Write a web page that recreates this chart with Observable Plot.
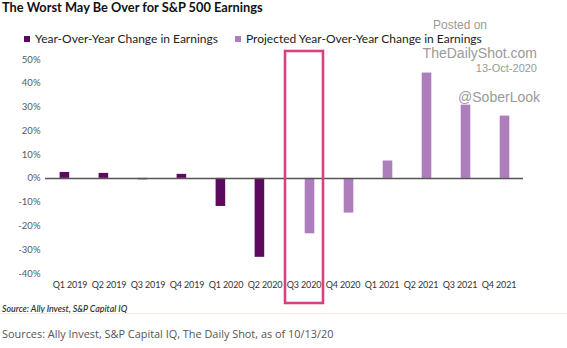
<!DOCTYPE html>
<html>
<head>
<meta charset="utf-8">
<script src="https://cdn.jsdelivr.net/npm/d3@7"></script>
<script src="https://cdn.jsdelivr.net/npm/@observablehq/plot@0.6"></script>
<style>
  html, body { margin: 0; padding: 0; background: #fff; }
  body { width: 567px; height: 348px; position: relative; overflow: hidden; font-family: Lato, "Open Sans", sans-serif; }
  .abs { position: absolute; white-space: nowrap; }
  #title { left: 2px; top: -1px; font: 700 12.8px Lato, sans-serif; color: #111; }
  #legend { left: 24px; top: 33px; font: 12px/12px Lato, sans-serif; color: #222; display: flex; align-items: center; }
  #legend .sw { width: 6px; height: 6px; display: inline-block; margin-right: 5px; }
  #legend .item { display: flex; align-items: center; margin-right: 17px; }
  #chart { left: 0; top: 45px; }
  .wm { color: #9a9a9a; font-family: "Liberation Sans", Arial, sans-serif; text-align: right; line-height: 1; }
  #source { left: 2px; top: 303px; font: italic 600 8.8px Lato, sans-serif; color: #333; }
  #rule { left: 0; top: 313px; width: 567px; height: 1px; background: #f3ebe3; }
  #sources { left: 2px; top: 326px; font: 10.9px "Open Sans", sans-serif; color: #555; }
</style>
</head>
<body>
<div class="abs" id="title">The Worst May Be Over for S&amp;P 500 Earnings</div>
<div class="abs wm" style="right:80px; top:19px; font-size:12px;">Posted on</div>
<div class="abs" id="legend"></div>
<div class="abs" id="chart"></div>
<div class="abs wm" style="right:30px; top:46px; font-size:14px;">TheDailyShot.com</div>
<div class="abs wm" style="right:30px; top:63px; font-size:11px;">13-Oct-2020</div>
<div class="abs wm" style="right:27px; top:90px; font-size:14px;">@SoberLook</div>
<div class="abs" id="source">Source: Ally Invest, S&amp;P Capital IQ</div>
<div class="abs" id="rule"></div>
<div class="abs" id="sources">Sources: Ally Invest, S&amp;P Capital IQ, The Daily Shot, as of 10/13/20</div>
<script>
// Quarterly S&P 500 year-over-year earnings change (%)
const quarters = ["Q1 2019", "Q2 2019", "Q3 2019", "Q4 2019", "Q1 2020", "Q2 2020",
                  "Q3 2020", "Q4 2020", "Q1 2021", "Q2 2021", "Q3 2021", "Q4 2021"];
const actual = [2.5, 2.1, -0.6, 1.7, -11.8, -33.2, null, null, null, null, null, null];
const projected = [null, null, null, null, null, null, -23.3, -14.6, 7.3, 44.3, 30.8, 26.2];
const seriesNames = ["Year-Over-Year Change in Earnings", "Projected Year-Over-Year Change in Earnings"];
const yTicks = [50, 40, 30, 20, 10, 0, -10, -20, -30, -40];
const highlighted = ["Q3 2020"];

const colors = ["#5c0a5e", "#ad7dbc"];

const actualRows = quarters.map((q, i) => ({q, v: actual[i]})).filter(d => d.v !== null);
const projectedRows = quarters.map((q, i) => ({q, v: projected[i]})).filter(d => d.v !== null);

// legend
const legend = document.getElementById("legend");
seriesNames.forEach((name, i) => {
  const item = document.createElement("span");
  item.className = "item";
  item.innerHTML = `<span class="sw" style="background:${colors[i]}"></span>${name}`;
  legend.appendChild(item);
});

// place each series' bars side by side within the quarter band
const barW = 9.6;
function shiftBars(offset) {
  return function(index, scales, values, dimensions, context, next) {
    const g = next(index, scales, values, dimensions, context);
    const bw = scales.x.bandwidth();
    d3.select(g).selectAll("rect").each(function() {
      const c = +this.getAttribute("x") + bw / 2;
      this.setAttribute("x", c + offset);
      this.setAttribute("width", barW);
    });
    return g;
  };
}

const plot = Plot.plot({
  width: 567,
  height: 265,
  marginTop: 14,
  marginBottom: 37,
  marginLeft: 45,
  marginRight: 44,
  style: {fontFamily: "Lato, sans-serif", background: "transparent"},
  x: {domain: quarters, padding: 0, label: null, tickSize: 0, tickPadding: 8},
  y: {domain: [-40, 50], ticks: yTicks, tickFormat: d => `${d}%`, label: null, tickSize: 0, tickPadding: 5},
  marks: [
    Plot.barY(actualRows, {x: "q", y: "v", fill: colors[0], render: shiftBars(-barW - 0.3)}),
    Plot.barY(projectedRows, {x: "q", y: "v", fill: colors[1], render: shiftBars(1.2)}),
    Plot.ruleY([0], {stroke: "#555", strokeWidth: 1.5}),
    // highlight box around the current quarter
    Plot.cell(highlighted, {
      x: d => d, fill: "none", stroke: "#d9427f", strokeWidth: 2.6,
      insetTop: -8, insetBottom: -30, insetLeft: 1, insetRight: 0
    })
  ]
});
d3.select(plot).selectAll("[aria-label='y-axis tick label'] text").attr("fill", "#595959").style("font-size", "9.5px");
d3.select(plot).selectAll("[aria-label='x-axis tick label'] text").attr("fill", "#333")
  .style("font-size", "9px").style("letter-spacing", "-0.15px");
document.getElementById("chart").appendChild(plot);
</script>
</body>
</html>
